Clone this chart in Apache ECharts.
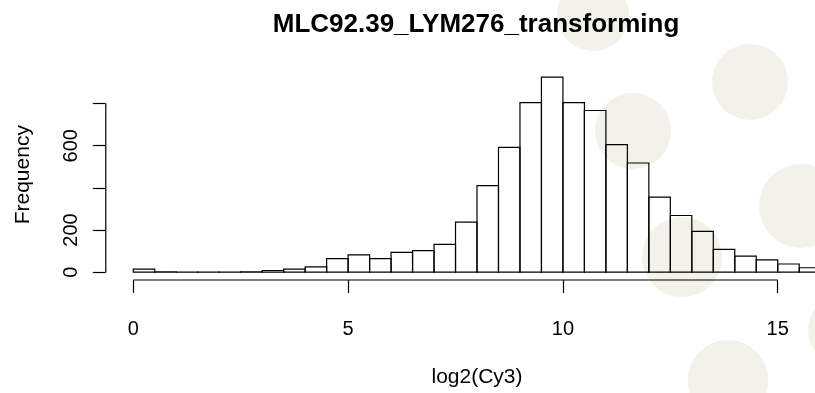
<!DOCTYPE html>
<html><head><meta charset="utf-8">
<script src="https://cdn.jsdelivr.net/npm/echarts@6/dist/echarts.min.js"></script>
<style>html,body{margin:0;padding:0;background:#fff;overflow:hidden;width:815px;height:393px}#c{width:849px;height:393px}</style>
</head><body><div id="c"></div>
<script>
const binEdges = [0,0.5,1,1.5,2,2.5,3,3.5,4,4.5,5,5.5,6,6.5,7,7.5,8,8.5,9,9.5,10,10.5,11,11.5,12,12.5,13,13.5,14,14.5,15,15.5,16];
const counts = [15,2,1,1,1,2,8,15,25,64,82,64,94,102,132,238,411,592,804,925,804,767,605,518,356,269,194,108,76,58,39,21];
const xTicks = [0,5,10,15];
const yTicks = [0,200,400,600,800];
const yLabels = [0,200,600];
const titleText = 'MLC92.39_LYM276_transforming';
const xName = 'log2(Cy3)';
const yName = 'Frequency';

const xLo = binEdges[0], xHi = binEdges[binEdges.length - 1];
const xPad = 0.04 * (xHi - xLo);
const maxC = Math.max(...counts);
const yMin = -0.04 * maxC, yMax = 1.04 * maxC;
const barData = counts.map((c, i) => [binEdges[i], binEdges[i + 1], c]);

const FONT = '"Liberation Sans", Arial, sans-serif';
const bg = [[593,15,36],[750,82,38],[633,131,38],[801,206,42],[682,257,40],[728,380,40],[846,330,38]];

const chart = echarts.init(document.getElementById('c'), null, {renderer: 'canvas'});
chart.setOption({
  animation: false,
  backgroundColor: '#fff',
  graphic: bg.map(b => ({type: 'circle', z: -10, silent: true, shape: {cx: b[0], cy: b[1], r: b[2]}, style: {fill: '#f2f1ea'}})),
  title: {
    text: titleText, left: 471, top: 7, textAlign: 'center',
    textStyle: {fontFamily: FONT, fontWeight: 'bold', fontSize: 26, color: '#000'}
  },
  grid: {left: 105.8, right: 0.8, top: 69.4, bottom: 110.1, containLabel: false},
  xAxis: {
    type: 'value', min: xLo - xPad, max: xHi + xPad,
    axisLine: {show: false, onZero: false}, splitLine: {show: false},
    axisTick: {show: true, customValues: xTicks, length: 13, lineStyle: {color: '#000', width: 1.2}},
    axisLabel: {customValues: xTicks, margin: 39, fontFamily: FONT, fontSize: 20, color: '#000'},
    name: xName, nameLocation: 'middle', nameGap: 87,
    nameTextStyle: {fontFamily: FONT, fontSize: 21, color: '#000'}
  },
  yAxis: {
    type: 'value', min: yMin, max: yMax,
    axisLine: {show: false, onZero: false}, splitLine: {show: false},
    axisTick: {show: true, customValues: yTicks, length: 13, lineStyle: {color: '#000', width: 1.2}},
    axisLabel: {customValues: yLabels, rotate: 90, margin: 24, fontFamily: FONT, fontSize: 20, color: '#000'},
    name: yName, nameLocation: 'middle', nameGap: 72, nameRotate: 90,
    nameTextStyle: {fontFamily: FONT, fontSize: 21, color: '#000'}
  },
  series: [
    {
      type: 'custom', clip: true, silent: true,
      data: barData, encode: {x: [0, 1], y: 2},
      renderItem: function (params, api) {
        const p0 = api.coord([api.value(0), api.value(2)]);
        const p1 = api.coord([api.value(1), 0]);
        return {type: 'rect', shape: {x: p0[0], y: p0[1], width: p1[0] - p0[0], height: p1[1] - p0[1]},
          style: {fill: 'none', stroke: '#000', lineWidth: 1.2}};
      }
    },
    {
      type: 'line', silent: true, clip: false, symbol: 'none',
      data: [[xTicks[0], yMin], [xTicks[xTicks.length - 1], yMin]],
      lineStyle: {color: '#000', width: 1.2}
    },
    {
      type: 'line', silent: true, clip: false, symbol: 'none',
      data: [[xLo - xPad, yTicks[0]], [xLo - xPad, yTicks[yTicks.length - 1]]],
      lineStyle: {color: '#000', width: 1.2}
    }
  ]
});
</script></body></html>
